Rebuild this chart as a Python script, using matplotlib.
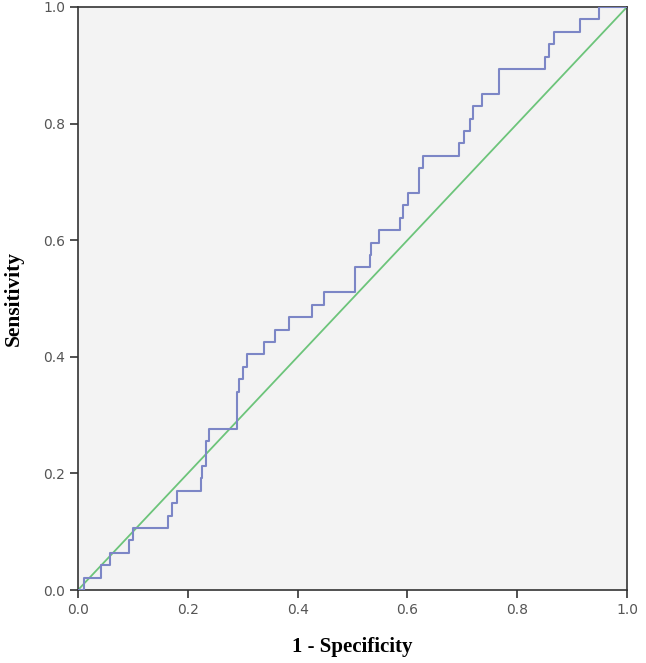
import matplotlib
matplotlib.use("Agg")
import matplotlib.pyplot as plt
import numpy as np

# ROC curve vertices: 1 - specificity where each step rises, and count of true positives (out of 47)
n_pos = 47
fpr = [0.0, 0.0115, 0.042, 0.0583, 0.0935, 0.1007, 0.1634, 0.171, 0.18, 0.224, 0.2264,
       0.2326, 0.2386, 0.2902, 0.2938, 0.301, 0.3073, 0.3393, 0.3588, 0.3849, 0.427,
       0.448, 0.5046, 0.5319, 0.5337, 0.5488, 0.5865, 0.5914, 0.6017, 0.6211, 0.6279,
       0.6945, 0.7036, 0.714, 0.72, 0.7365, 0.7674, 0.8506, 0.858, 0.867, 0.9144,
       0.949, 1.0]
tp_count = [0, 1, 2, 3, 4, 5, 6, 7, 8, 9, 10,
            12, 13, 16, 17, 18, 19, 20, 21, 22, 23,
            24, 26, 27, 28, 29, 30, 31, 32, 34, 35,
            36, 37, 38, 39, 40, 42, 43, 44, 45, 46,
            47, 47]
tpr = [c / n_pos for c in tp_count]

ref_line = [0.0, 1.0]
ticks = [0.0, 0.2, 0.4, 0.6, 0.8, 1.0]
tick_labels = ["0.0", "0.2", "0.4", "0.6", "0.8", "1.0"]

fig = plt.figure(figsize=(6.46, 6.63), dpi=100)
ax = fig.add_axes([78/646, 1 - 590/663, (627-78)/646, (590-7)/663])
ax.set_facecolor("#F3F3F3")

ax.plot(ref_line, ref_line, color="#6CC47A", lw=1.3, zorder=2)
ax.plot(fpr, tpr, drawstyle="steps-post", color="#7C86C6", lw=1.5, zorder=3)

ax.set_xlim(0, 1)
ax.set_ylim(0, 1)
ax.set_xticks(ticks)
ax.set_xticklabels(tick_labels)
ax.set_yticks(ticks)
ax.set_yticklabels(tick_labels)
ax.tick_params(direction="out", length=6, width=1.2, color="#333333",
               labelcolor="#555555", labelsize=10, pad=3)
for s in ax.spines.values():
    s.set_color("#333333")
    s.set_linewidth(1.2)

ax.set_xlabel("1 - Specificity", fontfamily="Liberation Serif", fontweight="bold",
              fontsize=15, labelpad=15)
ax.set_ylabel("Sensitivity", fontfamily="Liberation Serif", fontweight="bold",
              fontsize=15.5, labelpad=14)

fig.savefig("out.png", dpi=100, facecolor="white")
